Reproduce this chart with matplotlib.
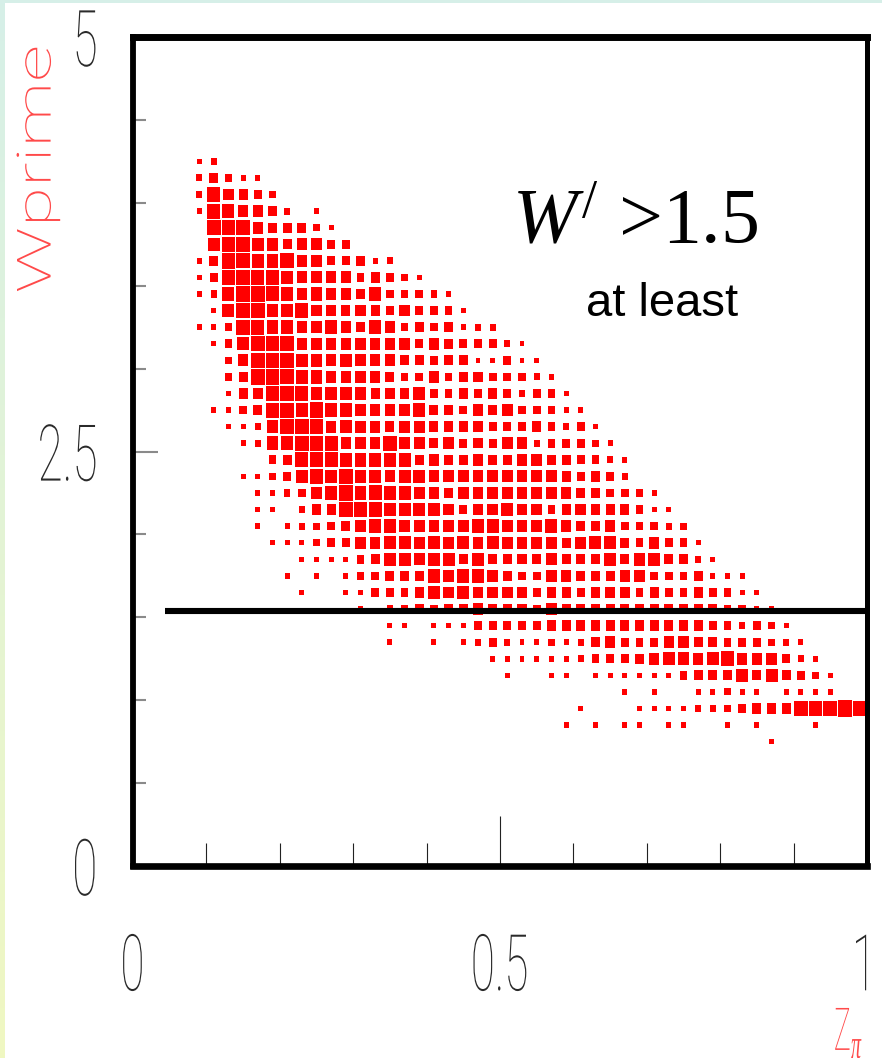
import numpy as np
import matplotlib
matplotlib.use("Agg")
import matplotlib.pyplot as plt
from matplotlib import patheffects
from matplotlib.transforms import Affine2D
from matplotlib.patches import Rectangle

# ---------------- data (2-D histogram, 50 x 50 bins, box-size levels 0..10, 'X' = 10) -------------
x_range = (0.0, 1.0)
y_range = (0.0, 5.0)
n_bins_x = 50
n_bins_y = 50
# y-bin index of each stored row
row_bin_y = [42, 41, 40, 39, 38, 37, 36, 35, 34, 33, 32, 31, 30, 29, 28, 27, 26, 25, 24,
             23, 22, 21, 20, 19, 18, 17, 16, 15, 14, 13, 12, 11, 10, 9, 8, 7]
# x-bin index of the first character of each row
row_first_x = [4, 4, 4, 4, 5, 5, 4, 4, 4, 5, 4, 5, 6, 6, 6, 5, 6, 7, 9,
               7, 8, 8, 8, 9, 11, 10, 11, 15, 17, 17, 24, 25, 33, 30, 29, 43]
row_levels = [
    "23",
    "35422",
    "386543",
    "287665302",
    "989655532",
    "7887756644",
    "25987786644523",
    "2498887666645432",
    "237998767665744432",
    "279977866565464442",
    "224887766765764545233",
    "2479886666666646544432",
    "3699877676665545522422",
    "45998776666544645544432",
    "256988777756574454543442",
    "22458879776666755465644422",
    "22378996766566555544454342",
    "23779986668665645466344432",
    "4589877777565565566554432",
    "223478787767766666666654543",
    "2234679787766566666666554432",
    "22035588877776466766456555422",
    "202334567766666776667655644433",
    "222344667767676766665677546442",
    "22224577677575555655575775532",
    "20202445557677654466555664445222",
    "20022444576766654554566454454422",
    "20335455655546555555555553422",
    "2202224444455555555555443432",
    "20020234322323564446655444332",
    "22222234445677678666432",
    "20022022222245557575432",
    "202002232202222",
    "200022223334555899X9",
    "202022022002020002",
    "2",
]
cut_value = 1.54
cut_x_start = 0.044
x_ticks = [0, 0.5, 1]
x_tick_labels = ["0", "0.5", "1"]
x_minor = [0.1, 0.2, 0.3, 0.4, 0.6, 0.7, 0.8, 0.9]
y_ticks = [0, 2.5, 5]
y_tick_labels = ["0", "2.5", "5"]
y_minor = [0.5, 1.0, 1.5, 2.0, 3.0, 3.5, 4.0, 4.5]


class Squeeze(patheffects.AbstractPathEffect):
    """Rescale glyph outlines (keeps the Text a real Text object)."""

    def __init__(self, sx, sy=1.0, anchor="center", dx=0.0):
        super().__init__()
        self.sx, self.sy, self.anchor, self.dx = sx, sy, anchor, dx

    def draw_path(self, renderer, gc, tpath, affine, rgbFace=None):
        v = tpath.vertices
        if len(v):
            if self.anchor == "right":
                cx = v[:, 0].max()
            elif self.anchor == "left":
                cx = v[:, 0].min()
            else:
                cx = 0.5 * (v[:, 0].min() + v[:, 0].max())
            cy = 0.5 * (v[:, 1].min() + v[:, 1].max())
        else:
            cx = cy = 0.0
        aff = (Affine2D().translate(-cx, -cy).scale(self.sx, self.sy).translate(cx, cy)
               + affine + Affine2D().translate(self.dx, 0))
        renderer.draw_path(gc, tpath, aff, rgbFace)


plt.rcParams["mathtext.fontset"] = "custom"
plt.rcParams["mathtext.rm"] = "Liberation Serif"
plt.rcParams["mathtext.it"] = "Liberation Serif:italic"

W, H = 882, 1058
fig = plt.figure(figsize=(W / 100, H / 100), dpi=100)

# background: pale gradient frame
bg = fig.add_axes([0, 0, 1, 1], zorder=-10)
bg.axis("off")
g = np.linspace(0, 1, 256)[:, None, None]
c_top = np.array([0.84, 0.94, 0.91])
c_bot = np.array([0.94, 0.97, 0.76])
bg.imshow(c_top * (1 - g) + c_bot * g, aspect="auto", extent=[0, 1, 0, 1])
bg.set_xlim(0, 1)
bg.set_ylim(0, 1)
bg.add_patch(Rectangle((5 / W, 0), 1, 1 - 3 / H, transform=bg.transAxes,
                       facecolor="white", edgecolor="none"))

L, R, T, B = 133, 867, 37, 866
ax = fig.add_axes([L / W, (H - B) / H, (R - L) / W, (B - T) / H])
ax.set_xlim(*x_range)
ax.set_ylim(*y_range)

# boxes
xedges = np.linspace(x_range[0], x_range[1], n_bins_x + 1)
yedges = np.linspace(y_range[0], y_range[1], n_bins_y + 1)
bw = xedges[1] - xedges[0]
bh = yedges[1] - yedges[0]
xs, ys, ws, hs = [], [], [], []
for j, i0, s in zip(row_bin_y, row_first_x, row_levels):
    for k, c in enumerate(s):
        lev = 10 if c == "X" else int(c)
        if lev == 0:
            continue
        i = i0 + k
        f = 1.0 if lev == 10 else min(0.93, (lev + 1.5) / 10.5)
        xs.append(0.5 * (xedges[i] + xedges[i + 1]))
        ys.append(0.5 * (yedges[j] + yedges[j + 1]))
        ws.append(f * bw)
        hs.append(f * bh)
xs, ys, ws, hs = map(np.asarray, (xs, ys, ws, hs))
ax.bar(xs, hs, width=ws, bottom=ys - hs / 2, color="#ff0000", linewidth=0, zorder=2)

# cut line
ax.plot([cut_x_start, 1.0], [cut_value, cut_value], color="black", lw=4.4,
        solid_capstyle="butt", zorder=5, clip_on=False)

# spines
for side, lw in [("left", 4.2), ("right", 3.6), ("top", 5.0), ("bottom", 4.8)]:
    ax.spines[side].set_linewidth(lw)
    ax.spines[side].set_color("black")

# ticks
ax.set_xticks(x_ticks)
ax.set_xticklabels(x_tick_labels)
ax.set_xticks(x_minor, minor=True)
ax.set_yticks(y_ticks)
ax.set_yticklabels(y_tick_labels)
ax.set_yticks(y_minor, minor=True)
ax.tick_params(axis="x", which="major", direction="in", length=36, width=0.8,
               color="#222222", pad=52)
ax.tick_params(axis="x", which="minor", direction="in", length=16.5, width=0.8,
               color="#222222")
ax.tick_params(axis="y", which="major", direction="in", length=18, width=1.5,
               color="#8a8a8a", pad=25)
ax.tick_params(axis="y", which="minor", direction="in", length=9.5, width=1.5,
               color="#8a8a8a")
lab_font = ["Roboto", "DejaVu Sans"]
xlbls = ax.get_xticklabels()
for n, lbl in enumerate(xlbls):
    lbl.set_fontfamily(lab_font)
    lbl.set_fontweight(200)
    lbl.set_fontsize(44)
    lbl.set_color("#2a2a2a")
    if n == len(xlbls) - 1:
        lbl.set_horizontalalignment("right")
        lbl.set_path_effects([Squeeze(0.72, 1.28, "right", dx=13)])
    else:
        lbl.set_path_effects([Squeeze(0.72, 1.28, "center")])
for lbl in ax.get_yticklabels():
    lbl.set_fontfamily(lab_font)
    lbl.set_fontweight(200)
    lbl.set_fontsize(44)
    lbl.set_color("#2a2a2a")
    lbl.set_path_effects([Squeeze(0.75, 1.28, "right")])

# axis titles
ax.set_ylabel("Wprime", color="#ff4a4a", fontsize=34, fontfamily=lab_font,
              fontweight=200, va="center", path_effects=[Squeeze(1.55, 1.0, "center")])
ax.yaxis.set_label_coords(-0.130, 0.84)
ax.set_xlabel(r"Z$_{\pi}$", color="#ff4a4a", fontsize=34, fontfamily=lab_font,
              fontweight=200, va="bottom", ha="center",
              path_effects=[Squeeze(0.6, 1.25, "center")])
ax.xaxis.set_label_coords(0.975, -(1056 - B) / (B - T))

# annotations
ax.text((512 - L) / (R - L), (B - 242) / (B - T), r"$W^{/}$ >1.5", transform=ax.transAxes,
        fontsize=56, fontfamily="Liberation Serif", va="baseline", ha="left", zorder=6)
ax.text((586 - L) / (R - L), (B - 316) / (B - T), "at least", transform=ax.transAxes,
        fontsize=34, fontfamily="Liberation Sans", va="baseline", ha="left", zorder=6)

fig.savefig("out.png", dpi=100)
